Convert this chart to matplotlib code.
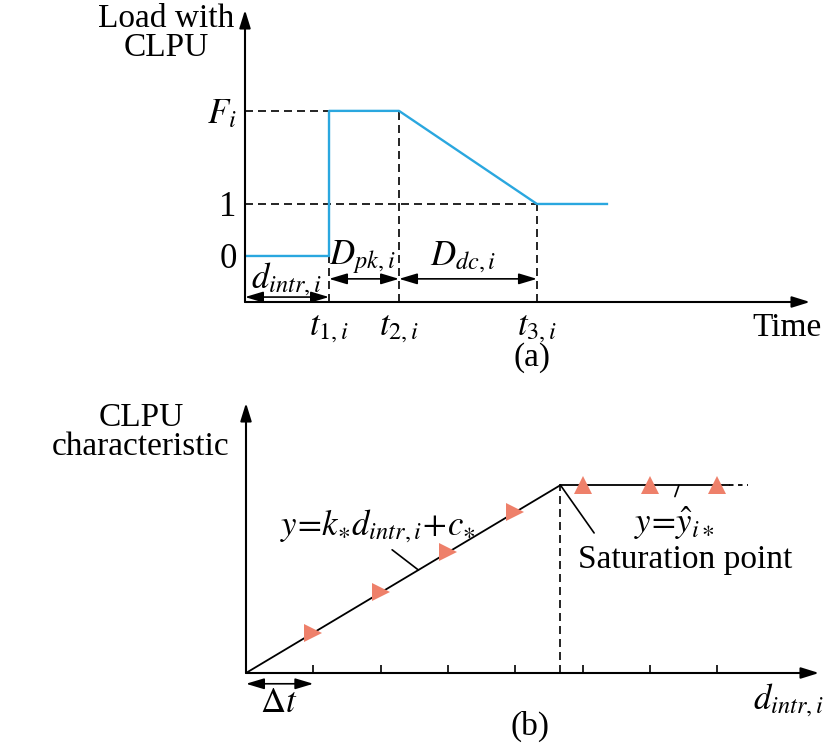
#!/usr/bin/env python3
# -*- coding: utf-8 -*-

import matplotlib.pyplot as plt

from matplotlib import rcParams

rcParams["font.family"] = "Liberation Serif"
rcParams["mathtext.fontset"] = "stix"
rcParams["font.size"] = 24

BLUE = "#2AA7DF"
SALMON = "#EE806A"
MATH = 25

# (a) load with cold load pick-up over time
tKnots = [0.0, 1.2, 1.2, 2.2, 4.17, 5.17]
load = [0.0, 0.0, 2.79, 2.79, 1.0, 1.0]
tMarks = [1.2, 2.2, 4.17]
tLabels = [r"$t_{1,i}$", r"$t_{2,i}$", r"$t_{3,i}$"]
loadTicks = [0.0, 1.0, 2.79]
loadLabels = ["0", "1", r"$F_i$"]

# (b) CLPU characteristic against interruption duration (units of delta t)
dSteps = [1, 2, 3, 4, 5, 6, 7]
riseX = [1, 2, 3, 4]
riseY = [0.6, 1.2, 1.79, 2.39]
satX = 4.67
satY = 2.79
flatX = [5, 6, 7]
flatY = [2.79, 2.79, 2.79]
flatEnd = 7.18
dottedEnd = 7.46


def axisArrows(ax, xmax, ymax):
    x0, y0 = ax.get_xlim()[0], ax.get_ylim()[0]
    kw = {
        "arrowstyle": "-|>,head_length=0.9,head_width=0.28",
        "color": "black",
        "lw": 1.5,
        "shrinkA": 0,
        "shrinkB": 0,
        "mutation_scale": 12,
    }
    ax.annotate("", xy=(xmax, y0), xytext=(x0, y0), arrowprops=kw,
                annotation_clip=False)
    ax.annotate("", xy=(x0, ymax), xytext=(x0, y0), arrowprops=kw,
                annotation_clip=False)


def span(ax, xa, xb, y):
    ax.annotate("", xy=(xb, y), xytext=(xa, y), annotation_clip=False,
                arrowprops={
                    "arrowstyle": "<|-|>,head_length=1.0,head_width=0.3",
                    "color": "black", "lw": 1.2, "shrinkA": 0, "shrinkB": 0,
                    "mutation_scale": 11,
                })


def leader(ax, pt, end):
    ax.annotate("", xy=pt, xytext=end, annotation_clip=False,
                arrowprops={"arrowstyle": "-", "color": "black", "lw": 1.2,
                            "shrinkA": 0, "shrinkB": 0})


def bare(ax):
    for s in ax.spines.values():
        s.set_visible(False)


fig = plt.figure(figsize=(8.24, 7.5), dpi=100)
dash = {"color": "black", "lw": 1.2, "dashes": (4.8, 3)}

# ---- (a)
ax = fig.add_axes([245 / 824, 1 - 302 / 750, 565 / 824, 292 / 750])
ax.set_xlim(0, 8.07)
ax.set_ylim(-0.885, 4.73)
bare(ax)
ybot = ax.get_ylim()[0]
ax.plot([0, tMarks[0]], [loadTicks[2]] * 2, **dash)
ax.plot([0, tMarks[2]], [loadTicks[1]] * 2, **dash)
ax.plot([tMarks[0]] * 2, [ybot, loadTicks[0]], **dash)
ax.plot([tMarks[1]] * 2, [ybot, loadTicks[2]], **dash)
ax.plot([tMarks[2]] * 2, [ybot, loadTicks[1]], **dash)
ax.plot(tKnots, load, color=BLUE, lw=1.7)
axisArrows(ax, 8.07, 4.73)
ax.set_xticks(tMarks, tLabels)
ax.set_yticks(loadTicks, loadLabels)
ax.tick_params(axis="x", length=0, pad=7, labelsize=MATH)
ax.tick_params(axis="y", length=0, pad=6, labelsize=MATH)

span(ax, 0, tMarks[0], -0.79)
span(ax, tMarks[0], tMarks[1], -0.44)
span(ax, tMarks[1], tMarks[2], -0.44)
ax.text(0.59, -0.44, r"$d_{intr,i}$", ha="center", va="center",
        fontsize=MATH)
ax.text(1.68, -0.02, r"$D_{pk,i}$", ha="center", va="center", fontsize=MATH)
ax.text(3.12, -0.02, r"$D_{dc,i}$", ha="center", va="center", fontsize=MATH)
ax.text(-1.13, 4.28, "Load with\nCLPU", ha="center", va="center",
        multialignment="center", linespacing=0.95)
ax.text(7.74, -1.38, "Time", ha="center", va="center")
ax.text(4.1, -1.96, "(a)", ha="center", va="center")

# ---- (b)
bx = fig.add_axes([246 / 824, 1 - 673 / 750, 573 / 824, 270 / 750])
bx.set_xlim(0, 8.51)
bx.set_ylim(0, 4.01)
bare(bx)
bx.plot([0, satX], [0, satY], color="black", lw=1.3)
bx.plot([satX, flatEnd], [satY, satY], color="black", lw=1.3)
bx.plot([flatEnd, dottedEnd], [satY, satY], color="black", lw=1.3,
        linestyle=(0, (2.5, 2.5)))
bx.plot([satX, satX], [0, satY], **dash)
bx.plot(riseX, riseY, ">", color=SALMON, markersize=13, markeredgewidth=0)
bx.plot(flatX, flatY, "^", color=SALMON, markersize=13, markeredgewidth=0)
axisArrows(bx, 8.51, 4.01)
bx.set_xticks(dSteps, [""] * len(dSteps))
bx.set_yticks([])
bx.tick_params(axis="x", direction="in", length=6, width=1.2)

span(bx, 0, dSteps[0], -0.16)
bx.text(0.48, -0.45, r"$\Delta t$", ha="center", va="center", fontsize=MATH)
bx.text(8.05, -0.40, r"$d_{intr,i}$", ha="center", va="center",
        fontsize=MATH)
bx.text(4.22, -0.80, "(b)", ha="center", va="center")
bx.text(-1.56, 3.58, "CLPU\ncharacteristic", ha="center", va="center",
        multialignment="center", linespacing=0.95)

bx.text(1.96, 2.19, r"$y\!=\!k_{\ast}d_{intr,i}\!+\!c_{\ast}$", ha="center",
        va="center", fontsize=MATH)
leader(bx, (2.56, 1.53), (2.17, 1.83))
bx.text(4.93, 1.68, "Saturation point", ha="left", va="center")
leader(bx, (satX, satY), (5.17, 2.08))
bx.text(6.37, 2.23, r"$y\!=\!\hat{y}_{i\ast}$", ha="center", va="center",
        fontsize=MATH)
leader(bx, (6.43, satY), (6.37, 2.62))

fig.savefig("out.png", dpi=100)
